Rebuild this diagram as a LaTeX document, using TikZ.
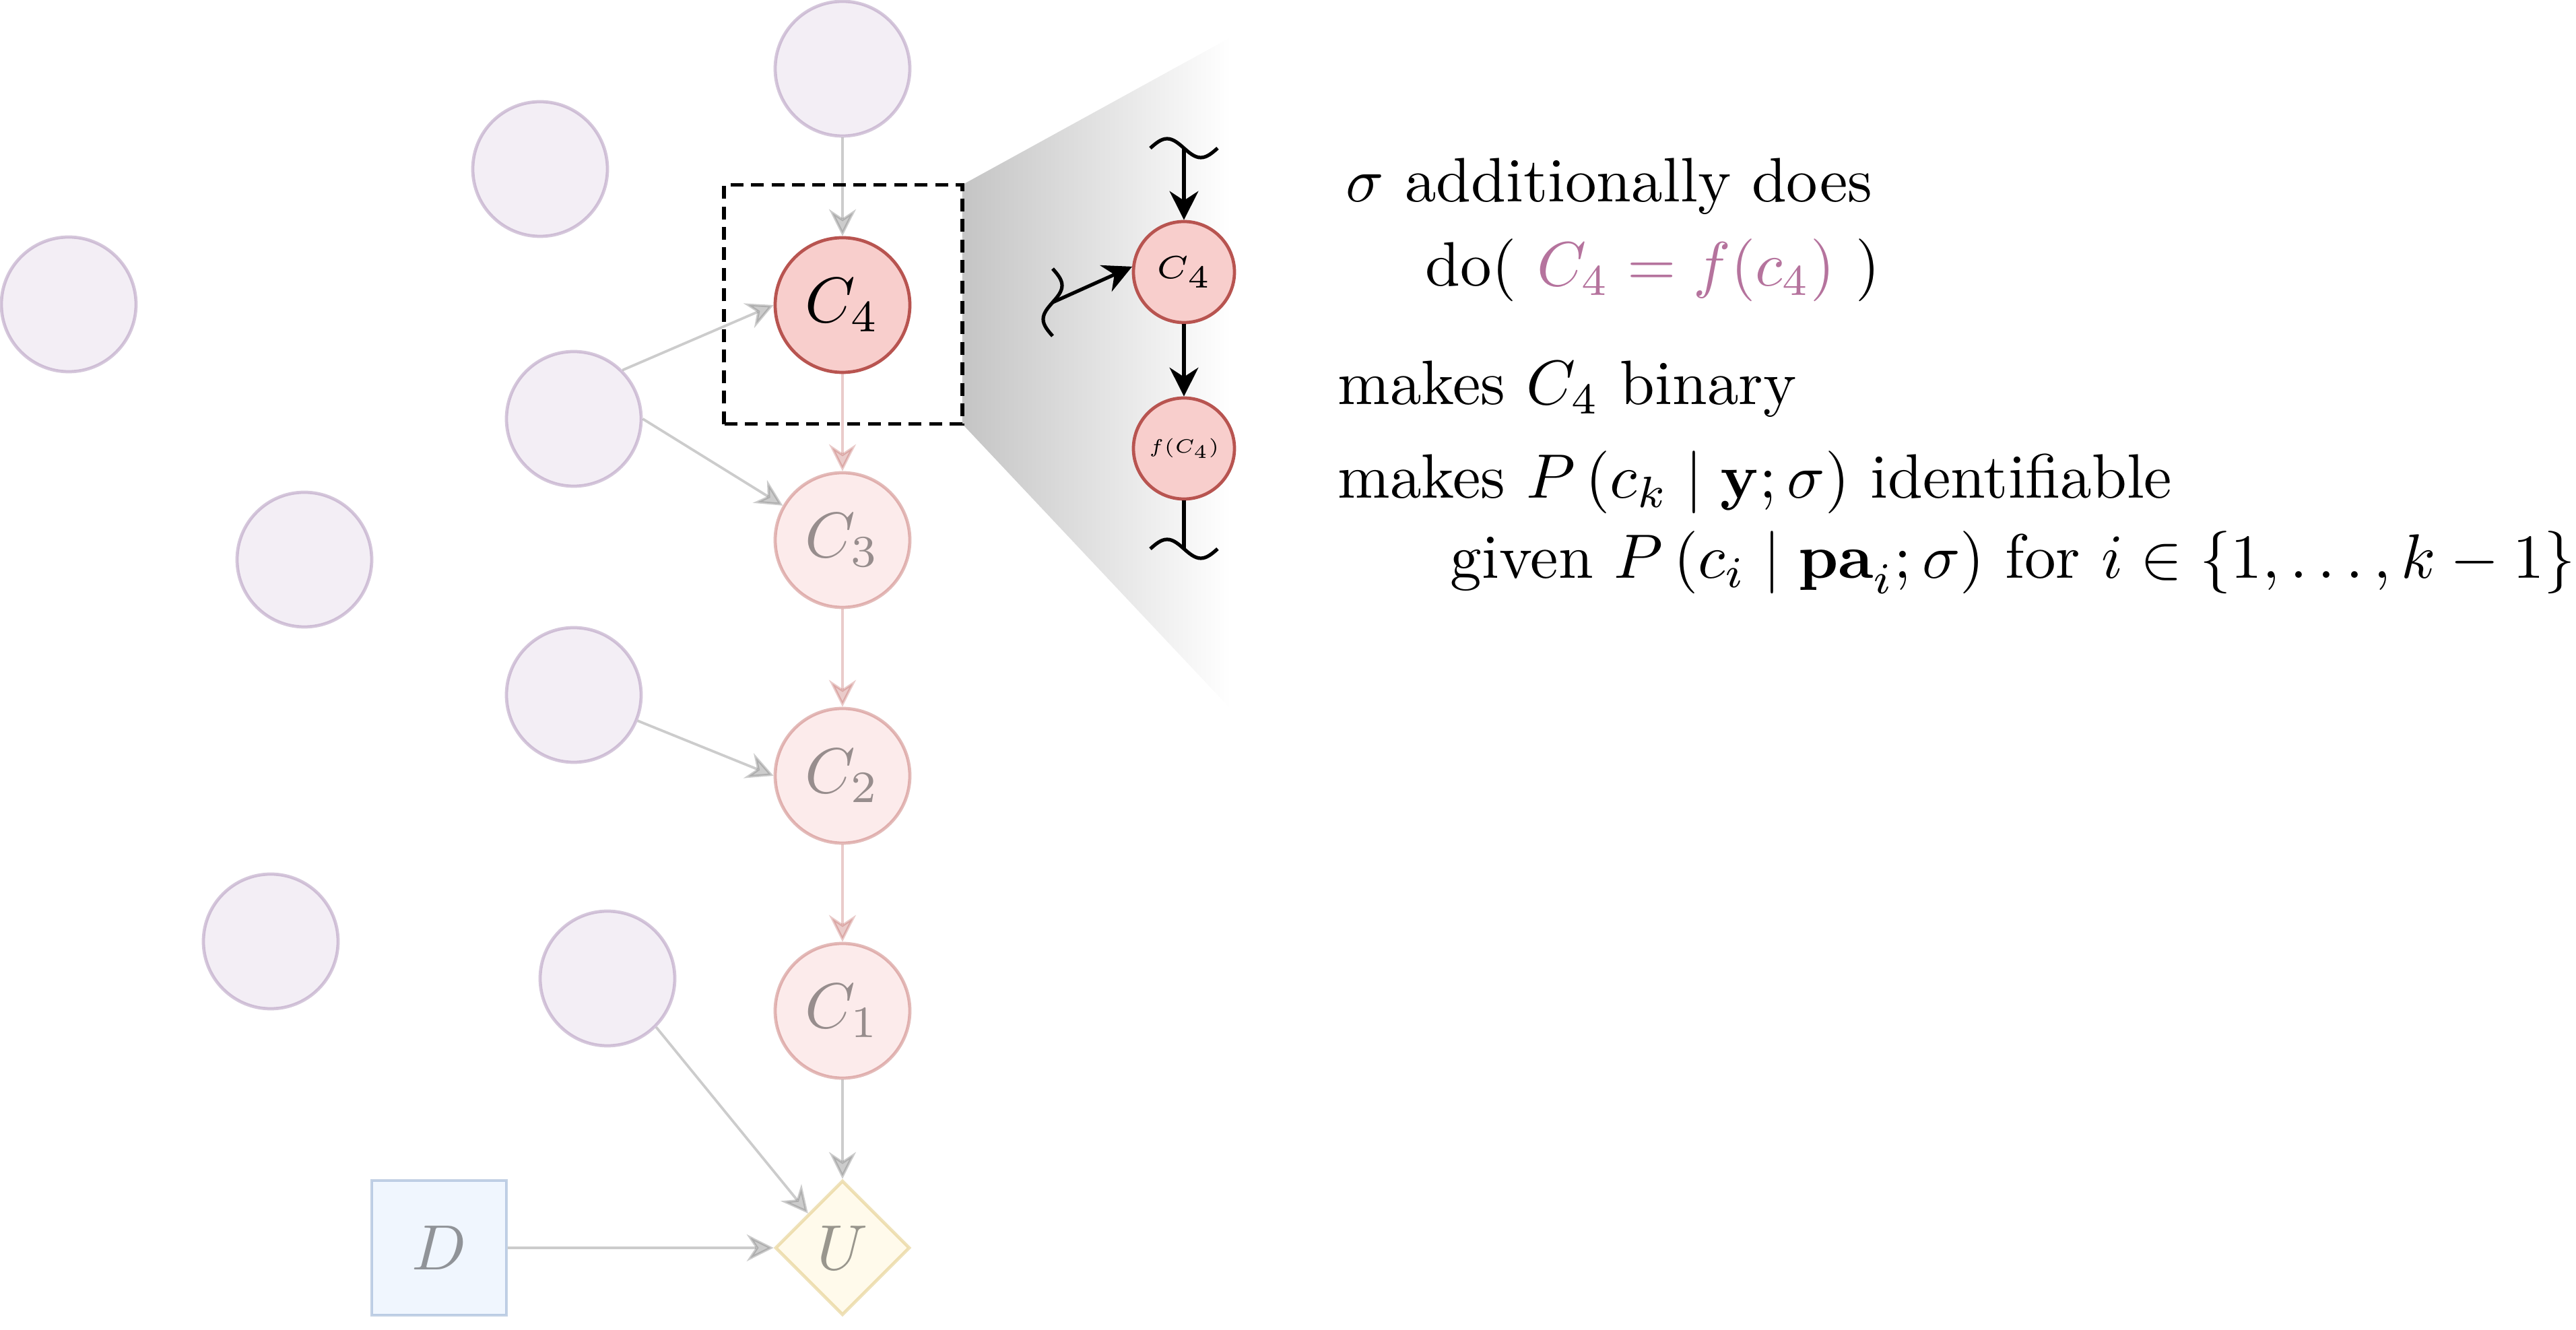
\documentclass[tikz,border=0pt]{standalone}
\usepackage{xcolor}
\usepackage{graphicx}
\usepackage{tikz}
\usetikzlibrary{arrows.meta,shapes.geometric}
\definecolor{nodepurple}{HTML}{E1D5E7}
\definecolor{nodepurpleline}{HTML}{9673A6}
\definecolor{nodered}{HTML}{F8CECC}
\definecolor{noderedline}{HTML}{B85450}
\definecolor{nodeblue}{HTML}{DAE8FC}
\definecolor{nodeblueline}{HTML}{6C8EBF}
\definecolor{nodeyellow}{HTML}{FFF2CC}
\definecolor{nodeyellowline}{HTML}{D6B656}
\definecolor{dopink}{HTML}{B5739D}
\pgfdeclarehorizontalshading{zoomfade}{100bp}{color(0bp)=(black!23);
  color(25bp)=(black!23); color(72bp)=(white); color(100bp)=(white)}
\tikzset{
  faded/.style={opacity=0.4},
  latent/.style={circle,draw=nodepurpleline,fill=nodepurple,line width=0.5pt,
    minimum size=0.74cm,inner sep=0pt,faded},
  chance/.style={circle,draw=noderedline,fill=nodered,line width=0.5pt,
    minimum size=0.74cm,inner sep=0pt},
  decision/.style={rectangle,draw=nodeblueline,fill=nodeblue,line width=0.5pt,
    minimum size=0.74cm,inner sep=0pt,faded},
  utility/.style={diamond,aspect=1,draw=nodeyellowline,fill=nodeyellow,
    line width=0.5pt,minimum size=0.74cm,inner sep=0pt,faded},
  edge/.style={draw=black!50,line width=0.4pt,opacity=0.4,
    -{Stealth[length=4.2pt,width=4.2pt,inset=1.4pt]}},
  chain edge/.style={draw=noderedline,line width=0.4pt,opacity=0.3,
    -{Stealth[length=4.2pt,width=4.2pt,inset=1.4pt]}},
  zoom node/.style={circle,draw=noderedline,fill=nodered,line width=0.5pt,
    minimum size=0.555cm,inner sep=0pt,font=\tiny},
  zoom edge/.style={line width=0.55pt,-{Stealth[length=4.5pt,width=4.5pt]}},
  note/.style={anchor=base west,inner sep=0pt,scale=0.98,transform shape},
  breakmark/.pic={\draw[line width=0.55pt] (-0.5,0) sin (-0.25,0.14) cos (0,0)
    sin (0.25,-0.14) cos (0.5,0);}
}

\begin{document}
\begin{tikzpicture}[x=0.37cm,y=0.37cm]
  \useasboundingbox (0,0) rectangle (38.25,19.75);
  % parents
  \foreach \n/\p in {p0/{12.51,18.73},p1/{8.02,17.24},p2/{1.02,15.23},
      pa/{8.52,13.53},p3/{4.52,11.44},pb/{8.52,9.43},p4/{4.02,5.77},pc/{9.02,5.22}}
    \node[latent] (\n) at (\p) {};
  % chain
  \node[chance] (c4) at (12.51,15.22) {$C_4$};
  \node[chance,faded] (c3) at (12.51,11.73) {$C_3$};
  \node[chance,faded] (c2) at (12.51,8.23) {$C_2$};
  \node[chance,faded] (c1) at (12.51,4.74) {$C_1$};
  \node[decision] (d) at (6.52,1.22) {$D$};
  \node[utility] (u) at (12.51,1.22) {$U$};
  \draw[edge] (p0) -- (c4);
  \draw[edge] (pa.45) -- (c4.west);
  \draw[edge] (pa.east) -- (c3.150);
  \draw[edge] (pb.-22) -- (c2.west);
  \draw[edge] (pc.-45) -- (u.north west);
  \draw[edge] (d) -- (u);
  \draw[edge] (c1) -- (u);
  \foreach \a/\b in {c4/c3,c3/c2,c2/c1}
    \draw[chain edge] (\a) -- (\b);
  % zoom
  \node[minimum width=1.295cm,minimum height=1.3cm] (zoombox) at (12.52,15.23) {};
  \shade[shading=zoomfade] (zoombox.north east)
    -- (18.50,19.32) -- (18.53,8.95) -- (zoombox.south east) -- cycle;
  \draw[line width=0.55pt,dash pattern=on 2pt off 1.2pt]
    (zoombox.south west) rectangle (zoombox.north east);
  \node[zoom node] (c4z) at (17.58,15.71) {$C_4$};
  \node[zoom node] (fz) at (17.58,13.09) {\scalebox{0.6}{$f(C_4)$}};
  \coordinate (cutT) at (17.58,17.55);
  \coordinate (cutB) at (17.58,11.60);
  \coordinate (cutL) at (15.63,15.26);
  \pic at (cutT) {breakmark};
  \pic at (cutB) {breakmark};
  \pic[rotate=90] at (cutL) {breakmark};
  \draw[zoom edge] (cutT) -- (c4z);
  \draw[zoom edge] (cutL) -- (c4z.174);
  \draw[zoom edge] (c4z) -- (fz);
  \draw[line width=0.55pt] (fz) -- (cutB);
  % text
  \node[note] (t1) at (19.97,16.75) {$\sigma$ additionally does};
  \node[note] (t2) at (21.15,15.50)
    {do( {\color{dopink}$C_4 = f(c_4)$} )};
  \node[note] (t3) at (19.85,13.74) {makes $C_4$ binary};
  \node[note] (t4) at (19.85,12.35)
    {makes $P\left(c_k \mid \mathbf{y};\sigma\right)$ identifiable};
  \node[note] (t5) at (21.52,11.16)
    {given $P\left(c_i \mid \mathbf{pa}_i;\sigma\right)$ for $i \in \{1,\ldots,k-1\}$};
\end{tikzpicture}
\end{document}
